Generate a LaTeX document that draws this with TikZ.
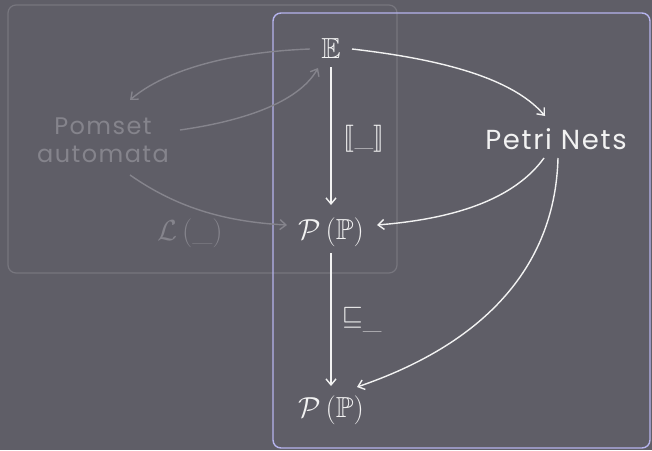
\documentclass[tikz,border=0pt]{standalone}
\usepackage{amssymb}
\usepackage{stmaryrd}
\usepackage{anyfontsize}
\usepackage{fontspec}
\newfontfamily\chalk[LetterSpace=6]{Poppins}
\usetikzlibrary{arrows.meta}
\definecolor{board}{HTML}{5F5E67}
\definecolor{chalkw}{HTML}{F2F2F2}
\definecolor{faded}{HTML}{85848C}
\definecolor{fadedbox}{HTML}{77767E}
\definecolor{bluebox}{HTML}{B6B4EE}
\tikzset{
  lbl/.style={text=chalkw, font=\fontsize{29}{33}\selectfont, inner sep=2pt},
  slbl/.style={text=chalkw, font=\fontsize{27}{31}\selectfont, inner sep=2pt},
  flbl/.style={text=faded, font=\fontsize{29}{33}\selectfont, inner sep=2pt},
  wtxt/.style={text=chalkw, font=\chalk\fontsize{27.5}{30}\selectfont, align=center, inner sep=2pt},
  ftxt/.style={text=faded, font=\chalk\fontsize{24}{30}\selectfont, align=center, inner sep=2pt},
  warr/.style={draw=chalkw, line width=1.4pt, -{Straight Barb[length=6pt,width=10pt]}},
  farr/.style={draw=faded, line width=1.4pt, -{Straight Barb[length=6pt,width=10pt]}},
}
\begin{document}
\begin{tikzpicture}[x=1pt,y=-1pt]
\fill[board] (0,0) rectangle (652,450);
\useasboundingbox (0,0) rectangle (652,450);
\draw[fadedbox, line width=1.2pt, rounded corners=8pt] (8,5) rectangle (397,273);
\draw[bluebox, line width=1.4pt, rounded corners=8pt] (273,13) rectangle (650,448);

\node[lbl] (E) at (331,49) {$\mathbb{E}$};
\node[lbl] (P1) at (331,232) {$\mathcal{P}\left(\mathbb{P}\right)$};
\node[lbl] (P2) at (331,410) {$\mathcal{P}\left(\mathbb{P}\right)$};
\node[wtxt] (PN) at (556,139) {Petri Nets};
\node[ftxt] (PA) at (103,140) {Pomset\\[-2pt]automata};

\node[slbl] (sem) at (364,139) {$\llbracket\_\rrbracket$};
\node[slbl] (sqs) at (362,320) {$\sqsubseteq_{\_}$};
\node[flbl] (Lang) at (190,233) {$\mathcal{L}\left(\_\right)$};

\coordinate (E1) at (331,67);
\coordinate (E2) at (331,205);
\coordinate (P1a) at (331,253);
\coordinate (P1b) at (331,386);
\draw[warr] (E1) -- (E2);
\draw[warr] (P1a) -- (P1b);

\coordinate (e1) at (352,49);
\coordinate (pn1) at (545,116);
\draw[warr] (e1) .. controls (430,58) and (510,75) .. (pn1);
\coordinate (pn2) at (544,158);
\coordinate (p1r) at (377,225);
\draw[warr] (pn2) .. controls (510,205) and (440,220) .. (p1r);
\coordinate (pn3) at (558,158);
\coordinate (p2r) at (357,387);
\draw[warr] (pn3) .. controls (555,270) and (480,345) .. (p2r);

\coordinate (ea) at (310,49);
\coordinate (paa) at (130,100);
\draw[farr] (ea) .. controls (230,52) and (165,70) .. (paa);
\coordinate (pab) at (180,130);
\coordinate (eb) at (318,68);
\draw[farr] (pab) .. controls (250,120) and (300,100) .. (eb);
\coordinate (pac) at (130,175);
\coordinate (p1l) at (287,225);
\draw[farr] (pac) .. controls (180,210) and (230,222) .. (p1l);
\end{tikzpicture}
\end{document}
